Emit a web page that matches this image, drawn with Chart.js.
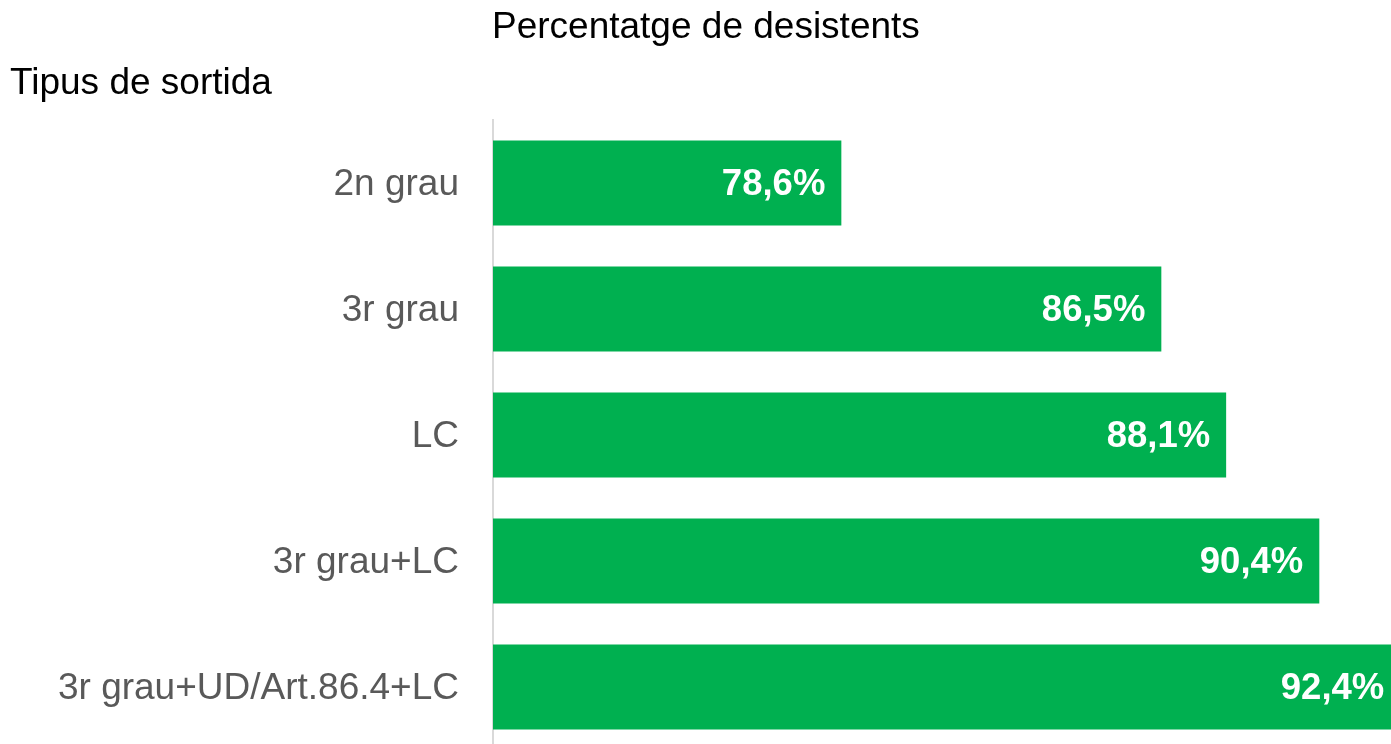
<!DOCTYPE html>
<html>
<head>
<meta charset="utf-8">
<script src="https://cdn.jsdelivr.net/npm/chart.js@4"></script>
<style>
  html, body { margin: 0; padding: 0; background: #fff; overflow: hidden; }
  #wrap { width: 1391px; height: 750px; position: relative; }
</style>
</head>
<body>
<div id="wrap"><canvas id="c" width="1391" height="750"></canvas></div>
<script>
const categories = ["2n grau", "3r grau", "LC", "3r grau+LC", "3r grau+UD/Art.86.4+LC"];
const values = [78.6, 86.5, 88.1, 90.4, 92.4];
const valueLabels = ["78,6%", "86,5%", "88,1%", "90,4%", "92,4%"];
const chartTitle = "Percentatge de desistents";
const axisTitle = "Tipus de sortida";

const FONT = '"Liberation Sans", Arial, sans-serif';

const textPlugin = {
  id: 'texts',
  afterDatasetsDraw(chart) {
    const ctx = chart.ctx;
    const meta = chart.getDatasetMeta(0);
    ctx.save();
    ctx.font = 'bold 36.5px ' + FONT;
    ctx.fillStyle = '#ffffff';
    ctx.textAlign = 'right';
    ctx.textBaseline = 'middle';
    meta.data.forEach((bar, i) => {
      ctx.fillText(valueLabels[i], bar.x - 16, bar.y + 2);
    });
    ctx.restore();
  },
  afterDraw(chart) {
    const ctx = chart.ctx;
    ctx.save();
    ctx.font = '37px ' + FONT;
    ctx.fillStyle = '#000000';
    ctx.textAlign = 'left';
    ctx.textBaseline = 'alphabetic';
    ctx.fillText(chartTitle, 492, 38);
    ctx.fillText(axisTitle, 10, 94);
    ctx.restore();
  }
};

new Chart(document.getElementById('c'), {
  type: 'bar',
  data: {
    labels: categories,
    datasets: [{
      data: values,
      backgroundColor: '#00B050',
      borderWidth: 0,
      barPercentage: 0.675,
      categoryPercentage: 1.0
    }]
  },
  options: {
    indexAxis: 'y',
    responsive: false,
    animation: false,
    devicePixelRatio: 1,
    layout: { padding: { top: 120, right: 0, bottom: 0, left: 0 } },
    plugins: {
      legend: { display: false },
      title: { display: false },
      tooltip: { enabled: false }
    },
    scales: {
      x: {
        display: false,
        min: 70,
        max: 92.17
      },
      y: {
        afterFit(scale) {
          scale.width = 493;
          scale.paddingTop = 0;
          scale.paddingBottom = 0;
        },
        grid: { display: false, drawTicks: false },
        border: { display: true, color: '#d9d9d9', width: 2 },
        ticks: {
          color: '#595959',
          padding: 34,
          labelOffset: 2,
          font: { family: FONT, size: 37 }
        }
      }
    }
  },
  plugins: [textPlugin]
});
</script>
</body>
</html>
